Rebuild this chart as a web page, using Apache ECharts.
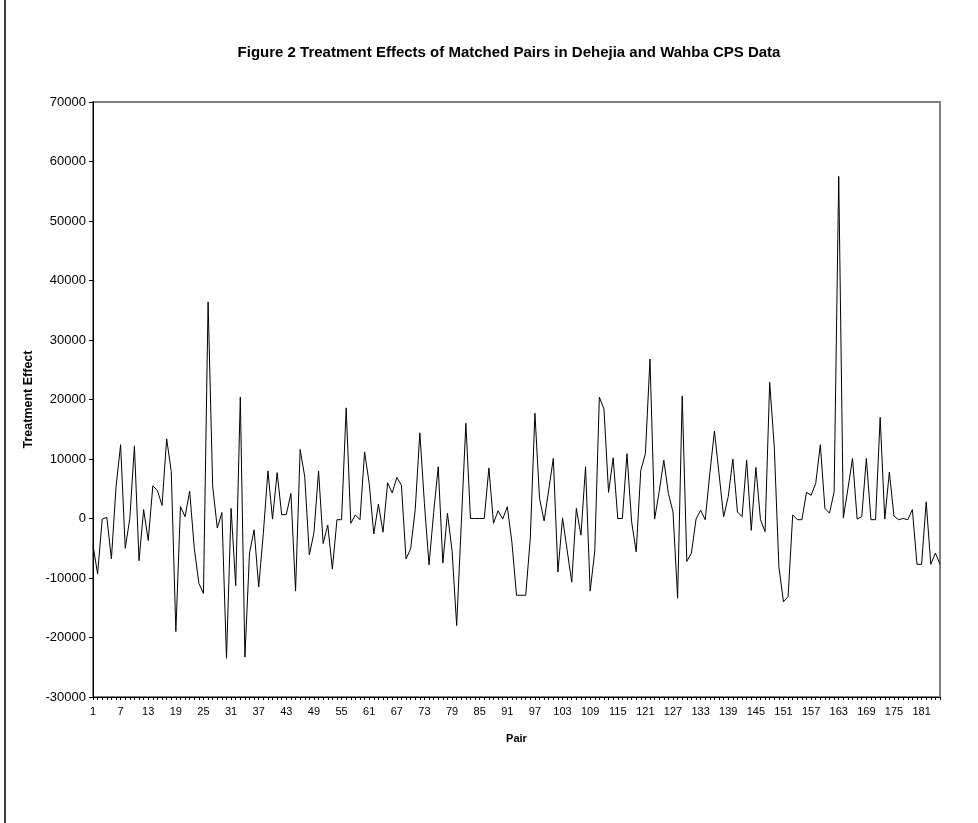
<!DOCTYPE html>
<html>
<head>
<meta charset="utf-8">
<script src="https://cdn.jsdelivr.net/npm/echarts@6/dist/echarts.min.js"></script>
<style>
html,body{margin:0;padding:0;background:#fff;}
#chart{width:978px;height:823px;}
</style>
</head>
<body>
<div id="chart"></div>
<script>
const titleText = 'Figure 2 Treatment Effects of Matched Pairs in Dehejia and Wahba CPS Data';
const xAxisName = 'Pair';
const yAxisName = 'Treatment Effect';
const yTicks = { min: -30000, max: 70000, interval: 10000 };

const effects1 = [-4500, -9300, -100, 200, -6800, 5300, 12400, -5000, 0, 12200,
  -7100, 1500, -3700, 5500, 4700, 2200, 13400, 7900, -19000, 2000,
  300, 4600, -5000, -10900, -12600, 36400, 5400, -1600, 1000, -23500];
const effects2 = [1700, -11300, 20400, -23300, -5800, -1900, -11500, -2500, 8000, -100,
  7700, 600, 700, 4200, -12200, 11600, 7000, -6100, -2400, 8000,
  -4200, -1100, -8500, -200, -200, 18600, -800, 600, -200, 11200];
const effects3 = [5900, -2600, 2400, -2300, 6000, 4300, 6900, 5600, -6800, -5100,
  1500, 14400, 2500, -7800, 1000, 8700, -7500, 900, -5400, -18000,
  -1000, 16000, 0, 0, 0, 0, 8500, -800, 1300, -100];
const effects4 = [2000, -4000, -12900, -12900, -12900, -3300, 17700, 3400, -400, 4800,
  10100, -9000, 100, -5300, -10700, 1700, -2800, 8700, -12200, -5500,
  20400, 18400, 4400, 10200, 0, 0, 10900, -500, -5600, 8100];
const effects5 = [10900, 26800, -100, 4500, 9800, 4200, 1100, -13400, 20600, -7200,
  -5800, -100, 1400, -200, 7600, 14700, 7500, 300, 3700, 10000,
  1100, 300, 9800, -2000, 8600, -200, -2200, 22900, 12000, -8100];
const effects6 = [-14000, -13100, 600, -200, -200, 4400, 3900, 5900, 12400, 1700,
  900, 4500, 57500, 100, 5000, 10100, -100, 300, 10100, -200,
  -200, 17000, -100, 7800, 400, -200, 0, -200, 1500, -7700,
  -7700, 2800, -7700, -5800, -7700];

const effects = [].concat(effects1, effects2, effects3, effects4, effects5, effects6);
const pairs = effects.map((_, i) => String(i + 1));

const chart = echarts.init(document.getElementById('chart'), null, { renderer: 'canvas' });
const font = 'Arial, "Liberation Sans", sans-serif';

chart.setOption({
  animation: false,
  backgroundColor: '#ffffff',
  title: {
    text: titleText,
    left: 504, top: 40, textAlign: 'center',
    textStyle: { fontFamily: font, fontSize: 15, fontWeight: 'bold', color: '#000' }
  },
  graphic: [{
    type: 'line', shape: { x1: 5, y1: 0, x2: 5, y2: 823 },
    style: { stroke: '#000', lineWidth: 1.5 }
  }],
  grid: {
    left: 93, right: 38, top: 102, bottom: 126,
    show: true, borderColor: '#808080', borderWidth: 2, backgroundColor: 'transparent'
  },
  xAxis: {
    type: 'category',
    data: pairs,
    boundaryGap: false,
    name: xAxisName,
    nameLocation: 'middle',
    nameGap: 36,
    nameTextStyle: { fontFamily: font, fontSize: 11, fontWeight: 'bold', color: '#000' },
    axisLine: { onZero: false, lineStyle: { color: '#000', width: 1 } },
    axisTick: { show: true, interval: 0, length: 3, inside: false, lineStyle: { color: '#000' } },
    axisLabel: { interval: 5, fontFamily: font, fontSize: 11, color: '#000', margin: 9 },
    splitLine: { show: false }
  },
  yAxis: {
    type: 'value',
    min: yTicks.min, max: yTicks.max, interval: yTicks.interval,
    name: yAxisName,
    nameLocation: 'middle',
    nameGap: 57,
    nameRotate: 90,
    nameTextStyle: { fontFamily: font, fontSize: 12.5, fontWeight: 'bold', color: '#000' },
    axisLine: { show: true, lineStyle: { color: '#000', width: 1 } },
    axisTick: { show: true, length: 4, lineStyle: { color: '#000' } },
    axisLabel: { fontFamily: font, fontSize: 13, color: '#000', margin: 7,
      formatter: v => String(v) },
    splitLine: { show: false }
  },
  series: [{
    type: 'line',
    data: effects,
    showSymbol: false,
    symbol: 'none',
    lineStyle: { color: '#000', width: 1 },
    itemStyle: { color: '#000' }
  }]
});
</script>
</body>
</html>
